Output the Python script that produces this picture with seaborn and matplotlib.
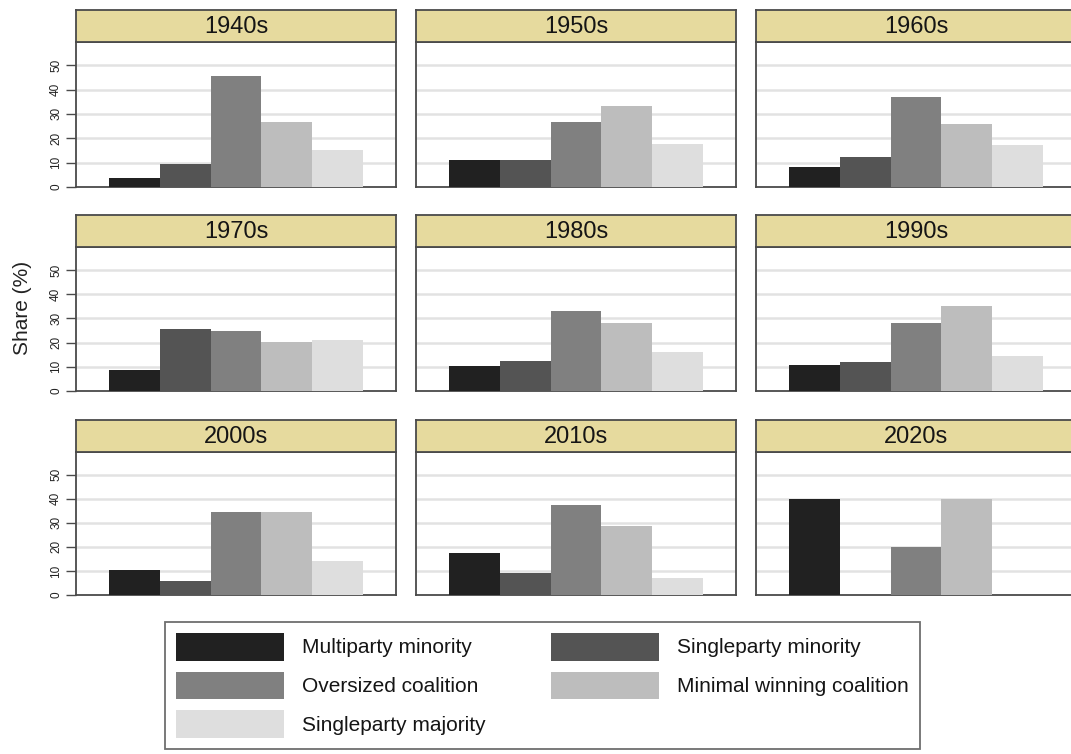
import matplotlib
matplotlib.use("Agg")
import matplotlib.pyplot as plt
from matplotlib.patches import Patch
import seaborn as sns
import pandas as pd

# Cabinet types and decade shares (%)
cabinet_types = ["Multiparty minority", "Singleparty minority", "Oversized coalition",
                 "Minimal winning coalition", "Singleparty majority"]
decades = ["1940s", "1950s", "1960s", "1970s", "1980s", "1990s", "2000s", "2010s", "2020s"]

share_1940s = [3.7, 9.5, 45.5, 26.7, 15.2]
share_1950s = [11.1, 11.1, 26.7, 33.3, 17.8]
share_1960s = [8.4, 12.2, 36.9, 25.7, 17.1]
share_1970s = [8.6, 25.8, 24.7, 20.2, 20.9]
share_1980s = [10.3, 12.2, 33.0, 28.3, 16.0]
share_1990s = [10.8, 11.9, 27.9, 35.0, 14.5]
share_2000s = [10.6, 5.8, 34.6, 34.6, 14.3]
share_2010s = [17.5, 9.1, 37.3, 28.9, 6.9]
share_2020s = [40.0, 0.0, 20.0, 40.0, 0.0]

type_colors = ["#212121", "#545454", "#808080", "#bdbdbd", "#dedede"]
y_ticks = [0, 10, 20, 30, 40, 50]

all_shares = [share_1940s, share_1950s, share_1960s, share_1970s, share_1980s,
              share_1990s, share_2000s, share_2010s, share_2020s]
rows = []
for dec, vals in zip(decades, all_shares):
    for t, v in zip(cabinet_types, vals):
        rows.append({"decade": dec, "type": t, "share": v})
df = pd.DataFrame(rows)

sns.set_theme(style="white")
plt.rcParams["font.family"] = ["Liberation Sans", "DejaVu Sans"]

W, H = 1071, 754
fig = plt.figure(figsize=(W / 100, H / 100), dpi=100)
fig.patch.set_facecolor("white")

col_left = [76, 416, 756]
panel_w = 320
row_top = [42, 247, 452]
row_bottom = [187, 391, 595]
strip_h = 32
frame_col = "#4a4a4a"
strip_col = "#e6da9e"
palette = dict(zip(cabinet_types, type_colors))

for i, dec in enumerate(decades):
    r, c = divmod(i, 3)
    x0 = col_left[c]
    top, bot = row_top[r], row_bottom[r]
    ax = fig.add_axes([x0 / W, 1 - bot / H, panel_w / W, (bot - top) / H])
    sub = df[df["decade"] == dec]
    sns.barplot(data=sub, x="type", y="share", hue="type", order=cabinet_types,
                hue_order=cabinet_types, palette=palette, width=1.0, saturation=1,
                legend=False, ax=ax, linewidth=0, zorder=3)
    ax.set_xlim(-1.14, 5.14)
    ax.set_ylim(0, 59.5)
    ax.set_yticks(y_ticks)
    for yv in y_ticks[1:]:
        ax.axhline(yv, color="#e2e2e2", lw=1.8, zorder=1)
    ax.set_xticks([])
    ax.set_xlabel("")
    ax.set_ylabel("")
    for s in ax.spines.values():
        s.set_color(frame_col)
        s.set_linewidth(1.3)
        s.set_visible(True)
    if c == 0:
        ax.tick_params(axis="y", which="both", left=True, length=7, width=1,
                       color=frame_col, labelsize=8.5, pad=3, labelcolor="#222222")
        for lab in ax.get_yticklabels():
            lab.set_rotation(90)
            lab.set_va("center")
    else:
        ax.tick_params(axis="y", left=False, labelleft=False)

    # strip header
    sax = fig.add_axes([x0 / W, 1 - top / H, panel_w / W, strip_h / H])
    sax.set_facecolor(strip_col)
    sax.set_xticks([])
    sax.set_yticks([])
    for s in sax.spines.values():
        s.set_color(frame_col)
        s.set_linewidth(1.3)
    sax.text(0.5, 0.47, dec, ha="center", va="center", fontsize=17, color="#151515",
             transform=sax.transAxes)

fig.text(23 / W, 1 - 308 / H, "Share (%)", rotation=90, ha="center", va="center",
         fontsize=15, color="#222222")

handles = [Patch(facecolor=col, edgecolor="none", label=lab)
           for lab, col in zip(cabinet_types, type_colors)]
order = [0, 2, 4, 1, 3]
leg = fig.legend([handles[k] for k in order], [cabinet_types[k] for k in order],
                 ncol=2, loc="upper left", bbox_to_anchor=(165 / W, 1 - 622 / H),
                 frameon=True, fancybox=False, fontsize=15, handlelength=5.18,
                 handleheight=1.67, handletextpad=0.88, columnspacing=3.14,
                 labelspacing=0.53, borderpad=0.52, borderaxespad=0)
leg.get_frame().set_edgecolor(frame_col)
leg.get_frame().set_linewidth(1.3)
for txt in leg.get_texts():
    txt.set_color("#151515")

fig.savefig("out.png", dpi=100, facecolor="white")
